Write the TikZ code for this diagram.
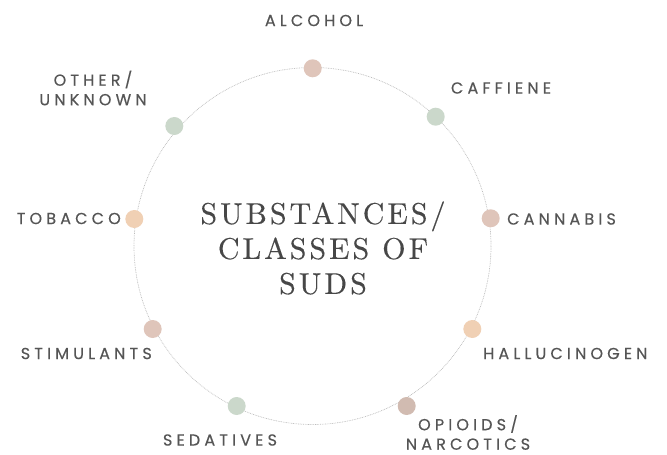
\documentclass[tikz,border=0pt]{standalone}
\usepackage{fontspec}
\setmainfont{Poppins}
\newfontfamily\labfont[LetterSpace=26,FakeBold=0.4]{Poppins}
\newfontfamily\ctrfont[LetterSpace=10,FakeBold=0.3]{lmroman10-regular.otf}
\definecolor{txt}{HTML}{555555}
\definecolor{ttl}{HTML}{474747}
\definecolor{rose}{HTML}{DFC5BA}
\definecolor{sage}{HTML}{CBD8CB}
\definecolor{peach}{HTML}{F0D0B4}
\definecolor{ring}{HTML}{BDBDBD}
\begin{document}
\begin{tikzpicture}[x=1pt,y=-1pt,
  dot/.style={circle,inner sep=0pt,minimum size=18pt,draw=none},
  lab/.style={font=\labfont\fontsize{16}{19.5}\selectfont,text=txt,align=center,inner sep=0pt},
  ctr/.style={font=\ctrfont\fontsize{30}{35}\selectfont,text=ttl,align=center,inner sep=0pt}]
\useasboundingbox (0,0) rectangle (667,455);
% the ring
\draw[ring,line width=0.7pt,dash pattern=on 0.8pt off 0.9pt] (312.5,246) circle[radius=178.5];
% markers on the ring
\node[dot,fill=rose]  (alc) at (312.7,68.3) {};
\node[dot,fill=sage]  (caf) at (435.7,116.7) {};
\node[dot,fill=rose]  (can) at (490.7,218.3) {};
\node[dot,fill=peach] (hal) at (472.3,329) {};
\node[dot,fill=rose!85!gray] (opi) at (406.7,406) {};
\node[dot,fill=sage]  (sed) at (236.7,406) {};
\node[dot,fill=rose]  (sti) at (152.7,329) {};
\node[dot,fill=peach] (tob) at (134.3,219) {};
\node[dot,fill=sage]  (oth) at (174.3,126) {};
% labels
\node[lab] (lalc) at (314,20.5) {ALCOHOL};
\node[lab] (lcaf) at (501,88) {CAFFIENE};
\node[lab,anchor=west] (lcan) at (507,219) {CANNABIS};
\node[lab,anchor=west] (lhal) at (483,353.5) {HALLUCINOGEN};
\node[lab] (lopi) at (468,432.5) {OPIOIDS/\\NARCOTICS};
\node[lab] (lsed) at (220,440) {SEDATIVES};
\node[lab,anchor=east] (lsti) at (152,353.5) {STIMULANTS};
\node[lab,anchor=east] (ltob) at (121,218.5) {TOBACCO};
\node[lab] (loth) at (93,88) {OTHER/\\UNKNOWN};
% centre title
\node[ctr] (title) at (323,248) {SUBSTANCES/\\CLASSES OF\\SUDS};
\end{tikzpicture}
\end{document}
